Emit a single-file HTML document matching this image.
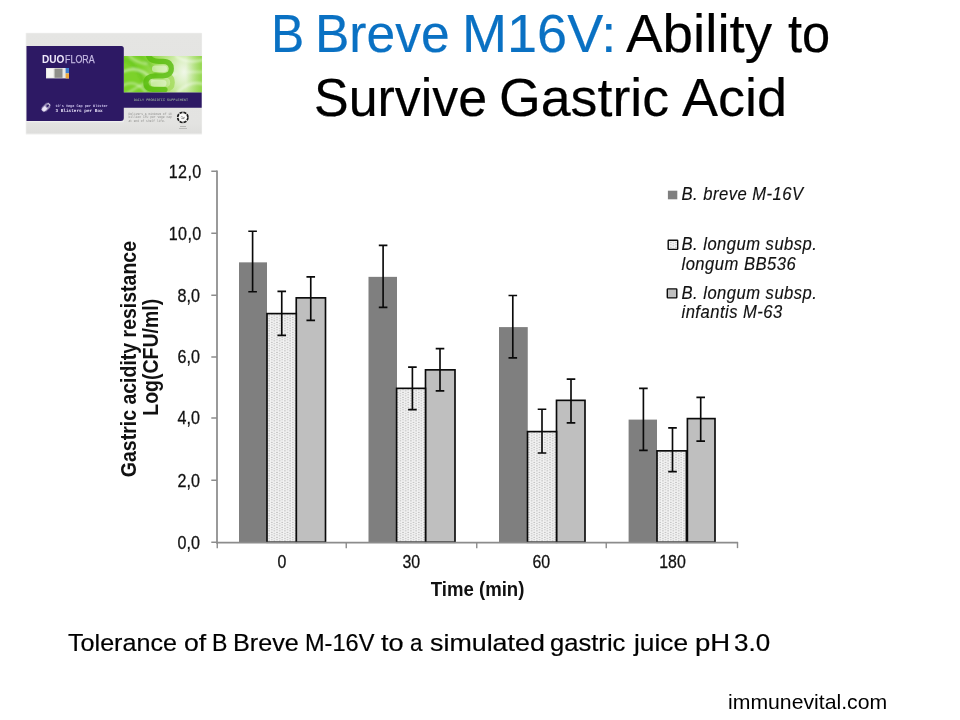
<!DOCTYPE html>
<html>
<head>
<meta charset="utf-8">
<title>B Breve M16V: Ability to Survive Gastric Acid</title>
<style>
html,body{margin:0;padding:0;background:#fff;}
body{width:960px;height:720px;position:relative;overflow:hidden;font-family:"Liberation Sans",sans-serif;color:#000;}
.abs{position:absolute;white-space:nowrap;}
.tw{position:absolute;white-space:nowrap;font-size:54px;line-height:60px;transform-origin:0 0;-webkit-text-stroke:0.2px currentColor;}
.blue{color:#0a71c3;}
.cap span{position:absolute;white-space:nowrap;font-size:24px;line-height:30px;transform-origin:0 0;-webkit-text-stroke:0.2px currentColor;}
.foot span{position:absolute;white-space:nowrap;font-size:20.8px;line-height:24px;transform-origin:0 0;}
svg{position:absolute;left:0;top:0;}
#chart{filter:blur(0.35px);}
#box{filter:blur(0.3px);}
svg{font-family:"Liberation Sans",sans-serif;will-change:transform;}
</style>
</head>
<body>
<svg id="box" width="960" height="720" viewBox="0 0 960 720">
<defs>
<linearGradient id="gbox" x1="0" y1="0" x2="0" y2="1"><stop offset="0" stop-color="#e5e5e3"/><stop offset="0.9" stop-color="#e3e3e1"/><stop offset="1" stop-color="#dededc"/></linearGradient>
<radialGradient id="ggreen" gradientUnits="userSpaceOnUse" cx="184" cy="72" r="60" gradientTransform="translate(184 0) scale(0.72 1) translate(-184 0)"><stop offset="0" stop-color="#f0f7e8"/><stop offset="0.2" stop-color="#dcf0c4"/><stop offset="0.45" stop-color="#bce688"/><stop offset="0.75" stop-color="#96da50"/><stop offset="1" stop-color="#7cd22a"/></radialGradient>
<linearGradient id="gright" x1="0" y1="0" x2="1" y2="0"><stop offset="0" stop-color="#86d23a" stop-opacity="0"/><stop offset="1" stop-color="#86d23a" stop-opacity="0.75"/></linearGradient>
<filter id="b0" x="-20%" y="-20%" width="140%" height="140%"><feGaussianBlur stdDeviation="0.35"/></filter>
<filter id="b1" x="-10%" y="-10%" width="120%" height="120%"><feGaussianBlur stdDeviation="0.6"/></filter>
<filter id="b2" x="-10%" y="-10%" width="120%" height="120%"><feGaussianBlur stdDeviation="1.2"/></filter>
<clipPath id="cgreen"><rect x="123.7" y="56" width="78.2" height="36.6"/></clipPath>
</defs>
<rect x="25.600" y="32.700" width="176.500" height="102" rx="0.800" fill="#f3f3f2"/><rect x="26.300" y="33.300" width="175.400" height="100.300" fill="url(#gbox)"/><rect x="26.300" y="121" width="97.500" height="1.300" fill="#efefee"/>
<rect x="123.7" y="56" width="78.2" height="36.6" fill="url(#ggreen)"/>
<g clip-path="url(#cgreen)">
<rect x="186" y="56" width="16" height="36.600" fill="url(#gright)"/>
<g filter="url(#b2)" fill="none" stroke-linecap="round"><path d="M122 60 Q138 60 148 96" stroke="#62c414" stroke-opacity="0.45" stroke-width="4"/><path d="M136 54 Q150 60 156 74" stroke="#66c418" stroke-opacity="0.4" stroke-width="3.500"/><path d="M122 72 Q140 64 152 80" stroke="#ffffff" stroke-opacity="0.5" stroke-width="2.400"/><path d="M122 86 Q134 78 146 92" stroke="#ffffff" stroke-opacity="0.4" stroke-width="2.200"/><path d="M128 54 Q134 62 146 64" stroke="#ffffff" stroke-opacity="0.4" stroke-width="2.200"/><path d="M126 94 Q150 78 176 74" stroke="#ffffff" stroke-opacity="0.35" stroke-width="2.500"/><path d="M176 56 Q186 64 203 60" stroke="#ffffff" stroke-opacity="0.45" stroke-width="2.600"/><path d="M178 92 Q190 80 203 84" stroke="#ffffff" stroke-opacity="0.45" stroke-width="2.600"/><path d="M188 72 L203 72" stroke="#ffffff" stroke-opacity="0.35" stroke-width="2.500"/></g>
<g filter="url(#b1)" fill="#eef8e0" fill-opacity="0.55"><rect x="152" y="65.500" width="15" height="6.6" rx="3"/><rect x="150.500" y="80" width="16" height="6.400" rx="3"/></g>
<g filter="url(#b1)" fill="none" stroke-linecap="round" opacity="0.82"><path d="M165 89.500 C171 89.500 172.500 86 172.500 82.500 C172.500 79 171.500 77 169 76" stroke="#a4dc5c" stroke-width="4.6"/><path d="M148 53 C148.500 59.500 153 61.300 159 61.300 L163 61.300 C169 61.300 171.300 64.500 171.300 68.600 C171.300 73 168.500 75.800 163 75.800 L155 75.800 C149 75.800 145.900 78.800 145.900 82.700 C145.900 87 149 89.500 155 89.500 L165 89.500" stroke="#58bc0a" stroke-width="5.200"/></g>
</g>
<path d="M26.5 46.1H121.300a2.500 2.500 0 0 1 2.500 2.500V92.500H201.700V107.800H123.800V118a3 3 0 0 1 -3 3H26.500Z" fill="#2d1964"/>
<text x="41.9" y="63" font-size="11.2" font-weight="bold" fill="#efe9fa" textLength="22.4" lengthAdjust="spacingAndGlyphs">DUO</text>
<text x="65.1" y="63" font-size="11.2" fill="#c4b9e2" stroke="#c4b9e2" stroke-width="0.25" textLength="29.6" lengthAdjust="spacingAndGlyphs">FLORA</text>
<g filter="url(#b1)"><rect x="46" y="68" width="23" height="10.4" fill="#e9e9e6"/><rect x="54.5" y="68.6" width="8" height="9.2" fill="#8f8f8a"/><rect x="47" y="69" width="6" height="8.4" fill="#f6f6f4"/><rect x="65.6" y="68" width="3.4" height="5.4" fill="#3f7fd0"/><rect x="65.6" y="73.4" width="3.4" height="5" fill="#f0a83a"/></g>
<g transform="translate(46 107.4) rotate(-45)" filter="url(#b0)"><rect x="-5.100" y="-2.400" width="10.200" height="4.800" rx="2.400" fill="#ece6f8"/><path d="M0.500 -1.450H2.700a1.450 1.450 0 0 1 0 2.900H0.500Z" fill="#35206e"/></g>
<g filter="url(#b0)" font-family="Liberation Mono" font-weight="bold" text-rendering="geometricPrecision"><text x="55.500" y="106.700" font-size="3.600" fill="#cbc3ec" textLength="52.200" lengthAdjust="spacingAndGlyphs">10's Vege Cap per Blister</text><text x="55.500" y="111.900" font-size="4.400" fill="#e6e0f6" textLength="47.200" lengthAdjust="spacingAndGlyphs">3 Blisters per Box</text></g>
<g filter="url(#b0)" text-rendering="geometricPrecision"><text x="133.7" y="101.4" font-size="3.6" font-family="Liberation Mono" fill="#a8c2a2" textLength="54.3" lengthAdjust="spacingAndGlyphs">DAILY PROBIOTIC SUPPLEMENT</text></g>
<g filter="url(#b0)" fill="#8f8f8d" font-family="Liberation Mono" font-size="3.6" text-rendering="geometricPrecision"><text x="128.5" y="114.6" textLength="43.4" lengthAdjust="spacingAndGlyphs">Delivers a minimum of 10</text><text x="128.5" y="118.3" textLength="43.4" lengthAdjust="spacingAndGlyphs">billion CFU per vege cap</text><text x="128.5" y="122" textLength="37" lengthAdjust="spacingAndGlyphs">at end of shelf life.</text></g>
<g filter="url(#b0)"><circle cx="182.800" cy="117.400" r="5.100" fill="#f6f6f4" stroke="#1a1a1a" stroke-width="1.700" stroke-dasharray="3.100 0.900"/><circle cx="182.800" cy="117.400" r="3.500" fill="#fbfbfa"/><path d="M180.800 117.200q1 -1.300 2 0t2 0M181.300 118.600h3" stroke="#555" stroke-width="0.600" fill="none"/><rect x="180" y="126.200" width="6" height="0.700" fill="#a2a2a0"/><rect x="179" y="128.100" width="8" height="0.700" fill="#adadab"/></g>
</svg>
<h1 style="margin:0;font-weight:normal">
<span class="tw blue" style="left:271.30px;top:3.10px;transform:scaleX(0.9231)">B</span>
<span class="tw blue" style="left:315.24px;top:3.10px;transform:scaleX(0.9543)">Breve</span>
<span class="tw blue" style="left:461.76px;top:3.10px;transform:scaleX(1.0008)">M16V:</span>
<span class="tw" style="left:625.80px;top:3.10px;transform:scaleX(1.0150)">Ability</span>
<span class="tw" style="left:788.40px;top:3.10px;transform:scaleX(0.9365)">to</span>
<span class="tw" style="left:313.60px;top:67.40px;transform:scaleX(0.9617)">Survive</span>
<span class="tw" style="left:498.80px;top:67.40px;transform:scaleX(0.9942)">Gastric</span>
<span class="tw" style="left:682.10px;top:67.40px;transform:scaleX(1.0011)">Acid</span>
</h1>
<svg id="chart" width="960" height="720" viewBox="0 0 960 720">
<defs><pattern id="dots" x="0.5" y="0.3" width="5.25" height="2.5" patternUnits="userSpaceOnUse"><rect width="5.25" height="2.5" fill="#f3f3f3"/><ellipse cx="0.9" cy="0.62" rx="0.8" ry="0.5" fill="#9c9c9c"/><ellipse cx="3.52" cy="1.87" rx="0.8" ry="0.5" fill="#9c9c9c"/></pattern></defs>
<g id="bars">
<rect x="239" y="262.35" width="28" height="279.9" fill="#7f7f7f"/>
<rect x="296.25" y="297.85" width="29.25" height="244.4" fill="#bfbfbf" stroke="#0a0a0a" stroke-width="1.65"/>
<rect x="267" y="313.6" width="29.25" height="228.65" fill="url(#dots)" stroke="#0a0a0a" stroke-width="1.65"/>
<rect x="368.5" y="276.85" width="28.5" height="265.4" fill="#7f7f7f"/>
<rect x="425.5" y="369.85" width="29.5" height="172.4" fill="#bfbfbf" stroke="#0a0a0a" stroke-width="1.65"/>
<rect x="396.6" y="388.35" width="28.9" height="153.9" fill="url(#dots)" stroke="#0a0a0a" stroke-width="1.65"/>
<rect x="499" y="327.1" width="28.75" height="215.15" fill="#7f7f7f"/>
<rect x="556.5" y="400.35" width="28.5" height="141.9" fill="#bfbfbf" stroke="#0a0a0a" stroke-width="1.65"/>
<rect x="527.5" y="431.6" width="29" height="110.65" fill="url(#dots)" stroke="#0a0a0a" stroke-width="1.65"/>
<rect x="628.6" y="419.6" width="28.4" height="122.65" fill="#7f7f7f"/>
<rect x="687.4" y="418.6" width="27.6" height="123.65" fill="#bfbfbf" stroke="#0a0a0a" stroke-width="1.65"/>
<rect x="657" y="450.85" width="29.4" height="91.4" fill="url(#dots)" stroke="#0a0a0a" stroke-width="1.65"/>
</g>
<g id="axes" stroke="#8c8c8c" fill="none">
<path d="M217 170.55V543.45" stroke-width="1.75"/>
<path d="M216.1 542.65H738.1" stroke-width="1.6"/>
<path d="M211.3 171.25H217" stroke-width="1.5"/>
<path d="M211.3 233.25H217" stroke-width="1.5"/>
<path d="M211.3 295.25H217" stroke-width="1.5"/>
<path d="M211.3 357H217" stroke-width="1.5"/>
<path d="M211.3 418H217" stroke-width="1.5"/>
<path d="M211.3 480.25H217" stroke-width="1.5"/>
<path d="M211.3 542.25H217" stroke-width="1.5"/>
<path d="M217.25 542.25V548.15" stroke-width="1.4"/>
<path d="M346.25 542.25V548.15" stroke-width="1.4"/>
<path d="M476.75 542.25V548.15" stroke-width="1.4"/>
<path d="M606.25 542.25V548.15" stroke-width="1.4"/>
<path d="M737.5 542.25V548.15" stroke-width="1.4"/>
</g>
<g id="errs" stroke="#0a0a0a" stroke-width="1.65" fill="none">
<path d="M252.6 231.25V291.7M248.3 231.25H256.9M248.3 291.7H256.9"/>
<path d="M281.75 291.35V335.3M277.45 291.35H286.05M277.45 335.3H286.05"/>
<path d="M310.75 276.85V320.3M306.45 276.85H315.05M306.45 320.3H315.05"/>
<path d="M383.1 245.35V307.3M378.8 245.35H387.4M378.8 307.3H387.4"/>
<path d="M412.4 367.1V409.55M408.1 367.1H416.7M408.1 409.55H416.7"/>
<path d="M440 348.6V390.8M435.7 348.6H444.3M435.7 390.8H444.3"/>
<path d="M512.8 295.45V357.8M508.5 295.45H517.1M508.5 357.8H517.1"/>
<path d="M542 409.25V453M537.7 409.25H546.3M537.7 453H546.3"/>
<path d="M571 379.05V422.9M566.7 379.05H575.3M566.7 422.9H575.3"/>
<path d="M643.4 388.35V450.3M639.1 388.35H647.7M639.1 450.3H647.7"/>
<path d="M672.5 427.85V471.55M668.2 427.85H676.8M668.2 471.55H676.8"/>
<path d="M700.7 397.35V441.05M696.4 397.35H705M696.4 441.05H705"/>
</g>
<g id="labels" fill="#111">
<text transform="translate(201.7 177.65) scale(1 1.16)" font-size="16.1" letter-spacing="0.4" text-anchor="end" stroke="#111" stroke-width="0.25">12,0</text>
<text transform="translate(201.7 239.65) scale(1 1.16)" font-size="16.1" letter-spacing="0.4" text-anchor="end" stroke="#111" stroke-width="0.25">10,0</text>
<text transform="translate(200 301.65) scale(1 1.16)" font-size="16.1" text-anchor="end" stroke="#111" stroke-width="0.25">8,0</text>
<text transform="translate(200 363.4) scale(1 1.16)" font-size="16.1" text-anchor="end" stroke="#111" stroke-width="0.25">6,0</text>
<text transform="translate(200 424.4) scale(1 1.16)" font-size="16.1" text-anchor="end" stroke="#111" stroke-width="0.25">4,0</text>
<text transform="translate(200 486.65) scale(1 1.16)" font-size="16.1" text-anchor="end" stroke="#111" stroke-width="0.25">2,0</text>
<text transform="translate(200 548.65) scale(1 1.16)" font-size="16.1" text-anchor="end" stroke="#111" stroke-width="0.25">0,0</text>
<text transform="translate(281.9 568.4) scale(1 1.16)" font-size="15.9" text-anchor="middle" stroke="#111" stroke-width="0.25">0</text>
<text transform="translate(411.3 568.4) scale(1 1.16)" font-size="15.9" text-anchor="middle" stroke="#111" stroke-width="0.25">30</text>
<text transform="translate(541.3 568.4) scale(1 1.16)" font-size="15.9" text-anchor="middle" stroke="#111" stroke-width="0.25">60</text>
<text transform="translate(672.5 568.4) scale(1 1.16)" font-size="15.9" text-anchor="middle" stroke="#111" stroke-width="0.25">180</text>
<text transform="translate(477.6 596) scale(1 1.13)" font-size="18.6" font-weight="bold" text-anchor="middle">Time (min)</text>
<text transform="translate(136.4 359.1) rotate(-90) scale(1 1.13)" font-size="19.5" font-weight="bold" text-anchor="middle">Gastric acidity resistance</text>
<text transform="translate(158.3 357.3) rotate(-90) scale(1 1.13)" font-size="19.5" font-weight="bold" text-anchor="middle">Log(CFU/ml)</text>
<rect x="667.9" y="190.7" width="9.4" height="8.6" fill="#7f7f7f"/>
<rect x="668.200" y="240.200" width="9.500" height="9.200" rx="0.600" fill="url(#dots)" stroke="#0a0a0a" stroke-width="1.400"/>
<rect x="667.300" y="288.900" width="9.500" height="9" rx="0.600" fill="#bfbfbf" stroke="#0a0a0a" stroke-width="1.400"/>
<text transform="translate(681.5 200.2) scale(1 1.13)" font-size="16.6" font-style="italic" letter-spacing="0.48" fill="#111" stroke="#111" stroke-width="0.15">B. breve M-16V</text>
<text transform="translate(681.5 250.4) scale(1 1.13)" font-size="16.6" font-style="italic" letter-spacing="0.48" fill="#111" stroke="#111" stroke-width="0.15">B. longum subsp.</text>
<text transform="translate(681.5 269.7) scale(1 1.13)" font-size="16.6" font-style="italic" letter-spacing="0.48" fill="#111" stroke="#111" stroke-width="0.15">longum BB536</text>
<text transform="translate(681.5 299.1) scale(1 1.13)" font-size="16.6" font-style="italic" letter-spacing="0.48" fill="#111" stroke="#111" stroke-width="0.15">B. longum subsp.</text>
<text transform="translate(681.5 318.2) scale(1 1.13)" font-size="16.6" font-style="italic" letter-spacing="0.48" fill="#111" stroke="#111" stroke-width="0.15">infantis M-63</text>
</g>
</svg>
<div class="cap">
<span style="left:68.15px;top:627.80px;transform:scaleX(1.0473)">Tolerance</span>
<span style="left:184.30px;top:627.80px;transform:scaleX(1.1060)">of</span>
<span style="left:211.55px;top:627.80px;transform:scaleX(0.9619)">B</span>
<span style="left:232.70px;top:627.80px;transform:scaleX(1.0499)">Breve</span>
<span style="left:304.65px;top:627.80px;transform:scaleX(0.9812)">M-16V</span>
<span style="left:381.05px;top:627.80px;transform:scaleX(1.1287)">to</span>
<span style="left:409.95px;top:627.80px;transform:scaleX(0.9347)">a</span>
<span style="left:430.35px;top:627.80px;transform:scaleX(1.1182)">simulated</span>
<span style="left:550.45px;top:627.80px;transform:scaleX(1.0661)">gastric</span>
<span style="left:634.45px;top:627.80px;transform:scaleX(1.0948)">juice</span>
<span style="left:694.75px;top:627.80px;transform:scaleX(1.1484)">pH</span>
<span style="left:734.30px;top:627.80px;transform:scaleX(1.0822)">3.0</span>
</div>
<div class="foot">
<span style="left:727.84px;top:689.80px;transform:scaleX(1.0203)">immunevital.com</span>
</div>
</body>
</html>
